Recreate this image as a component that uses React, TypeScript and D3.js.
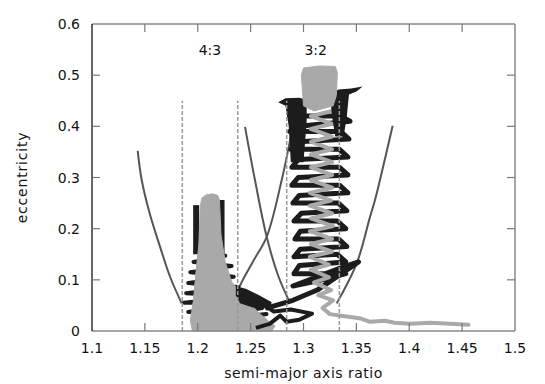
import * as d3 from "d3";

type Pt = [number, number];

// axis ticks
const xTicks = [1.1, 1.15, 1.2, 1.25, 1.3, 1.35, 1.4, 1.45, 1.5];
const yTicks = [0, 0.1, 0.2, 0.3, 0.4, 0.5, 0.6];

// resonance labels
const resLabels: { text: string; x: number }[] = [
  { text: "4:3", x: 1.2115 },
  { text: "3:2", x: 1.3115 },
];

// dashed limits of the resonances
const dashedX = [1.1854, 1.2378, 1.2841, 1.3339];
const dashedTop = 0.45;

// resonance width boundaries (x, e)
const res43Left: Pt[] = [[1.1432, 0.352], [1.147, 0.295], [1.1545, 0.23], [1.1643, 0.165], [1.1738, 0.106], [1.1848, 0.054]];
const res43Right: Pt[] = [[1.2365, 0.052], [1.2383, 0.08], [1.252, 0.135], [1.2652, 0.184], [1.2794, 0.295], [1.2851, 0.35], [1.288, 0.38]];
const res32Left: Pt[] = [[1.2447, 0.399], [1.2541, 0.295], [1.2652, 0.184], [1.2759, 0.109], [1.2872, 0.055]];
const res32Right: Pt[] = [[1.3843, 0.401], [1.3723, 0.295], [1.3676, 0.256], [1.3629, 0.223], [1.3503, 0.132], [1.3314, 0.054]];

// 4:3 planet (black): side bars and spikes
const black43BarL: Pt[] = [[1.1985, 0.246], [1.1985, 0.15]];
const black43BarR: Pt[] = [[1.2225, 0.256], [1.2225, 0.15]];
const black43Spikes: Pt[] = [
  [1.2, 0.154], [1.226, 0.147], [1.196, 0.135], [1.232, 0.127], [1.193, 0.115], [1.234, 0.106],
  [1.191, 0.094], [1.238, 0.086], [1.189, 0.074], [1.243, 0.068], [1.187, 0.055], [1.25, 0.055],
  [1.191, 0.037], [1.261, 0.045], [1.196, 0.021], [1.265, 0.033], [1.2, 0.008], [1.24, 0.012],
];
const black43Blob: Pt[] = [[1.236, 0.088], [1.246, 0.082], [1.258, 0.07], [1.27, 0.056], [1.268, 0.044], [1.252, 0.046], [1.24, 0.054], [1.236, 0.07]];

// 4:3 planet (grey)
const grey43: Pt[] = [
  [1.2025, 0.246], [1.204, 0.26], [1.208, 0.266], [1.214, 0.268], [1.219, 0.265], [1.2205, 0.256],
  [1.222, 0.188], [1.226, 0.135], [1.232, 0.096], [1.245, 0.064], [1.257, 0.037], [1.266, 0.021],
  [1.273, 0.01], [1.27, 0], [1.195, 0], [1.193, 0.021], [1.196, 0.061], [1.198, 0.109], [1.201, 0.168],
];

// 3:2 planet (black) bottom wave and zigzag
const black32Wave: Pt[] = [
  [1.255, 0.006], [1.268, 0.014], [1.278, 0.03], [1.284, 0.018], [1.296, 0.022], [1.308, 0.034],
  [1.288, 0.042], [1.272, 0.038], [1.262, 0.052], [1.25, 0.062],
];
const black32Zig: Pt[] = [
  [1.266, 0.045], [1.29, 0.06], [1.313, 0.08], [1.352, 0.135], [1.336, 0.124], [1.29, 0.088],
  [1.318, 0.1], [1.34, 0.112], [1.291, 0.112], [1.296, 0.128], [1.34, 0.135], [1.332, 0.15],
  [1.291, 0.145], [1.297, 0.16], [1.341, 0.165], [1.333, 0.18], [1.292, 0.18], [1.297, 0.195],
  [1.34, 0.2], [1.332, 0.215], [1.291, 0.215], [1.298, 0.23], [1.341, 0.235], [1.333, 0.25],
  [1.29, 0.25], [1.296, 0.265], [1.342, 0.27], [1.334, 0.285], [1.289, 0.285], [1.295, 0.3],
  [1.342, 0.305], [1.334, 0.32], [1.289, 0.32], [1.295, 0.335], [1.342, 0.34], [1.334, 0.355],
  [1.288, 0.355], [1.295, 0.37], [1.343, 0.375], [1.335, 0.39], [1.287, 0.39], [1.296, 0.4],
  [1.344, 0.41], [1.335, 0.42], [1.287, 0.42],
];
const black32CapL: Pt[] = [[1.276, 0.447], [1.283, 0.455], [1.296, 0.456], [1.303, 0.452], [1.303, 0.41], [1.3, 0.33], [1.288, 0.33], [1.286, 0.4], [1.283, 0.44]];
const black32CapR: Pt[] = [[1.325, 0.46], [1.333, 0.472], [1.345, 0.474], [1.356, 0.478], [1.35, 0.468], [1.343, 0.462], [1.341, 0.42], [1.338, 0.38], [1.33, 0.38], [1.327, 0.42]];

// 3:2 planet (grey) tail and zigzag
const grey32Zig: Pt[] = [
  [1.456, 0.012], [1.438, 0.014], [1.42, 0.016], [1.401, 0.014], [1.386, 0.016], [1.377, 0.02],
  [1.363, 0.018], [1.353, 0.025], [1.339, 0.029], [1.325, 0.033], [1.318, 0.045], [1.328, 0.06],
  [1.314, 0.07], [1.326, 0.08], [1.31, 0.095], [1.324, 0.105], [1.307, 0.12], [1.324, 0.13],
  [1.306, 0.145], [1.327, 0.155], [1.307, 0.17], [1.327, 0.18], [1.306, 0.195], [1.328, 0.205],
  [1.307, 0.22], [1.327, 0.23], [1.306, 0.245], [1.326, 0.255], [1.306, 0.27], [1.327, 0.28],
  [1.307, 0.295], [1.327, 0.305], [1.307, 0.32], [1.327, 0.33], [1.307, 0.345], [1.327, 0.355],
  [1.307, 0.37], [1.327, 0.38], [1.307, 0.395], [1.327, 0.405], [1.307, 0.42], [1.327, 0.43],
];
const grey32Cap: Pt[] = [[1.298, 0.5], [1.3, 0.514], [1.315, 0.518], [1.33, 0.517], [1.332, 0.505], [1.331, 0.46], [1.328, 0.44], [1.31, 0.43], [1.3, 0.44]];

const W = 545;
const H = 384;
const margin = { top: 24, right: 30, bottom: 53, left: 92 };

const BLACK = "#1c1c1c";
const GREY = "#a9a9a9";
const CURVE = "#555555";
const FONT = "DejaVu Sans, sans-serif";

export default function App() {
  const x = d3.scaleLinear().domain([1.1, 1.5]).range([margin.left, W - margin.right]);
  const y = d3.scaleLinear().domain([0, 0.6]).range([H - margin.bottom, margin.top]);

  const line = d3.line<Pt>().x(d => x(d[0])).y(d => y(d[1]));
  const smooth = d3.line<Pt>().x(d => x(d[0])).y(d => y(d[1])).curve(d3.curveCatmullRom);
  const poly = d3.line<Pt>().x(d => x(d[0])).y(d => y(d[1])).curve(d3.curveLinearClosed);

  const x0 = x.range()[0], x1 = x.range()[1];
  const y0 = y.range()[0], y1 = y.range()[1];
  const tick = 8;
  const fmt = (v: number) => String(+v.toFixed(2));

  return (
    <svg width={W} height={H} style={{ position: "absolute", left: 0, top: 0, background: "#fff" }}>
      {/* boundary curves */}
      {[res43Left, res43Right, res32Left, res32Right].map((c, i) => (
        <path key={"c" + i} d={smooth(c) || ""} fill="none" stroke={CURVE} strokeWidth={2} />
      ))}

      {/* 4:3 */}
      <path d={line(black43BarL) || ""} fill="none" stroke={BLACK} strokeWidth={6} />
      <path d={line(black43BarR) || ""} fill="none" stroke={BLACK} strokeWidth={6} />
      <path d={line(black43Spikes) || ""} fill="none" stroke={BLACK} strokeWidth={4} strokeLinejoin="round" />
      <path d={poly(grey43) || ""} fill={GREY} stroke={GREY} strokeWidth={1} />
      <path d={poly(black43Blob) || ""} fill={BLACK} />

      {/* 3:2 */}
      <path d={line(black32Wave) || ""} fill="none" stroke={BLACK} strokeWidth={4} strokeLinejoin="round" />
      <path d={line(black32Zig) || ""} fill="none" stroke={BLACK} strokeWidth={5} strokeLinejoin="round" strokeLinecap="round" />
      <path d={line(grey32Zig) || ""} fill="none" stroke={GREY} strokeWidth={4} strokeLinejoin="round" strokeLinecap="round" />
      <path d={poly(black32CapL) || ""} fill={BLACK} />
      <path d={poly(black32CapR) || ""} fill={BLACK} />
      <path d={poly(grey32Cap) || ""} fill={GREY} stroke={GREY} />

      {/* dashed resonance limits */}
      {dashedX.map(d => (
        <line key={"d" + d} x1={x(d)} x2={x(d)} y1={y(0)} y2={y(dashedTop)} stroke="#999" strokeWidth={1.5} strokeDasharray="4,2" />
      ))}

      {/* frame */}
      <line x1={x0} x2={x1} y1={y1} y2={y1} stroke="#888" strokeWidth={1.5} />
      <line x1={x1} x2={x1} y1={y1} y2={y0} stroke="#888" strokeWidth={1.5} />
      <line x1={x0} x2={x1} y1={y0} y2={y0} stroke="#888" strokeWidth={1.5} />
      <line x1={x0} x2={x0} y1={y1} y2={y0} stroke="#000" strokeWidth={1.2} />

      {xTicks.slice(1, -1).map(t => (
        <g key={"xt" + t} stroke="#777" strokeWidth={1.2}>
          <line x1={x(t)} x2={x(t)} y1={y0} y2={y0 - tick} />
          <line x1={x(t)} x2={x(t)} y1={y1} y2={y1 + tick} />
        </g>
      ))}
      {yTicks.slice(1, -1).map(t => (
        <g key={"yt" + t} stroke="#777" strokeWidth={1.2}>
          <line x1={x0} x2={x0 + tick} y1={y(t)} y2={y(t)} />
          <line x1={x1} x2={x1 - tick} y1={y(t)} y2={y(t)} />
        </g>
      ))}

      <g fontFamily={FONT} fontSize={14} fill="#111">
        {xTicks.map(t => (
          <text key={"xl" + t} x={x(t)} y={y0 + 22} textAnchor="middle">{fmt(t)}</text>
        ))}
        {yTicks.map(t => (
          <text key={"yl" + t} x={x0 - 12} y={y(t)} dy="0.36em" textAnchor="end">{fmt(t)}</text>
        ))}
        {resLabels.map(r => (
          <text key={r.text} x={x(r.x)} y={55} textAnchor="middle">{r.text}</text>
        ))}
        <text x={(x0 + x1) / 2} y={378} textAnchor="middle" letterSpacing={0.5}>semi-major axis ratio</text>
        <text transform={`translate(27,${(y0 + y1) / 2}) rotate(-90)`} textAnchor="middle" letterSpacing={0.8}>eccentricity</text>
      </g>
    </svg>
  );
}
